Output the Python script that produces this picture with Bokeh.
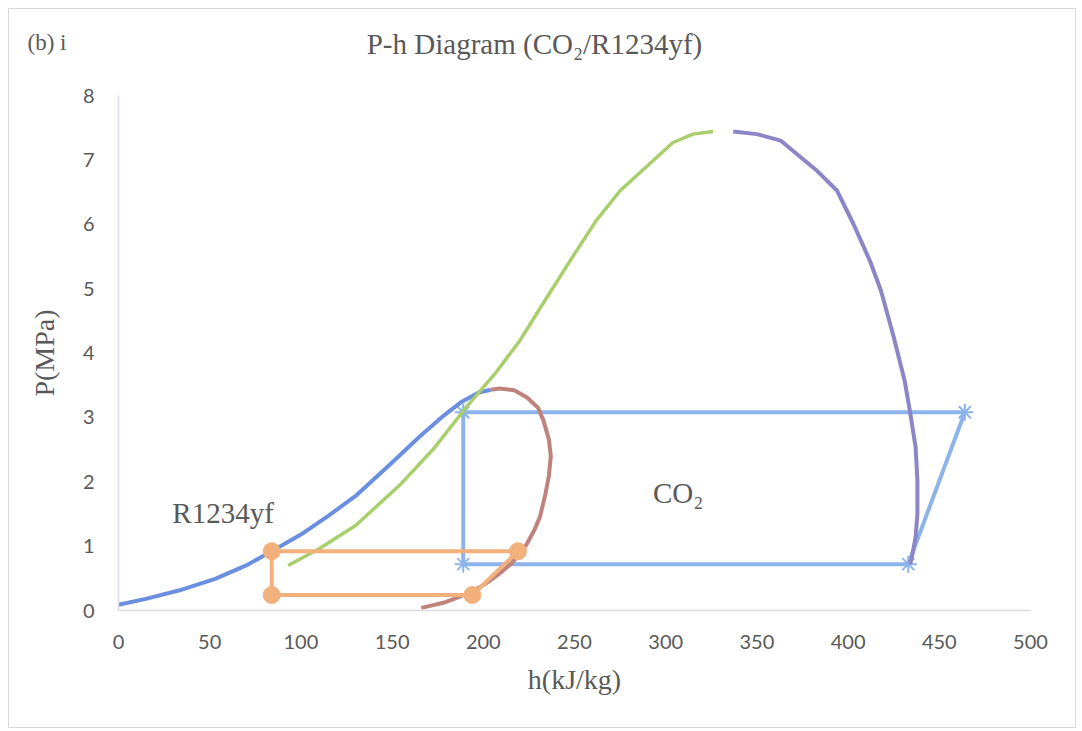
from bokeh.plotting import figure
from bokeh.layouts import column
from bokeh.models import Range1d, FixedTicker, Label
from bokeh.embed import file_html
from bokeh.resources import INLINE

# ---- data (h in kJ/kg, P in MPa) ----
# R1234yf saturation dome
r1234yf_liq_h = [0, 15, 33, 53, 70, 84, 100, 115, 130, 150, 165, 178, 188, 197, 204]
r1234yf_liq_p = [0.09, 0.18, 0.31, 0.49, 0.70, 0.92, 1.18, 1.47, 1.78, 2.30, 2.70, 3.02, 3.24, 3.38, 3.43]
r1234yf_vap_h = [204, 209, 217, 224, 230, 233, 236, 237, 236, 234, 231, 228, 224, 220, 215, 210, 204, 198, 191, 184, 178, 172, 166]
r1234yf_vap_p = [3.43, 3.45, 3.42, 3.31, 3.15, 2.95, 2.65, 2.40, 2.10, 1.80, 1.45, 1.25, 1.04, 0.88, 0.72, 0.60, 0.47, 0.36, 0.26, 0.18, 0.12, 0.08, 0.04]

# CO2 saturation dome
co2_liq_h = [93, 110, 130, 155, 173, 191, 207, 220, 235, 250, 262, 275, 290, 304, 315, 326]
co2_liq_p = [0.70, 0.96, 1.32, 1.97, 2.52, 3.17, 3.70, 4.19, 4.87, 5.54, 6.06, 6.52, 6.91, 7.27, 7.40, 7.44]
co2_vap_h = [337, 350, 363, 374, 383, 394, 403, 412, 418, 425, 431, 434, 437, 438, 438, 437, 435, 434]
co2_vap_p = [7.44, 7.40, 7.30, 7.04, 6.83, 6.52, 6.00, 5.43, 4.97, 4.25, 3.57, 3.08, 2.54, 2.02, 1.50, 1.14, 0.83, 0.72]

# cycle state points
co2_cycle_h = [189, 189, 433, 464, 189]
co2_cycle_p = [3.08, 0.72, 0.72, 3.08, 3.08]
r1234yf_cycle_h = [84, 84, 194, 219, 84]
r1234yf_cycle_p = [0.92, 0.24, 0.24, 0.92, 0.92]

x_ticks = [0, 50, 100, 150, 200, 250, 300, 350, 400, 450, 500]
y_ticks = [0, 1, 2, 3, 4, 5, 6, 7, 8]

SERIF = "Liberation Serif"
SANS = "Lato"
TEXT_GREY = "#595959"
WIDTH = 1066
HEADER_H = 70
TOTAL_H = 718

# ---- header strip with the caption and the title (pixel coordinates) ----
head = figure(
    width=WIDTH, height=HEADER_H,
    x_range=Range1d(0, WIDTH), y_range=Range1d(0, HEADER_H),
    x_axis_type=None, y_axis_type=None,
    output_backend="svg", toolbar_location=None,
    min_border=0, min_border_left=0, min_border_right=0,
    min_border_top=0, min_border_bottom=0,
    outline_line_color=None, frame_align=False,
    background_fill_color="white", border_fill_color="white",
)
head.grid.visible = False
head.add_layout(Label(x=525, y=36, text="P-h Diagram (CO\u2082/R1234yf)", text_font=SERIF,
                      text_font_size="29px", text_color=TEXT_GREY, text_align="center",
                      text_baseline="alphabetic"))
head.add_layout(Label(x=18, y=37, text="(b) i", text_font=SERIF, text_font_size="23px",
                      text_color=TEXT_GREY, text_align="left", text_baseline="alphabetic"))

# ---- main P-h chart ----
p = figure(
    width=WIDTH, height=TOTAL_H - HEADER_H,
    x_range=Range1d(0, 500), y_range=Range1d(0, 8),
    output_backend="svg", toolbar_location=None,
    min_border_left=109, min_border_right=45,
    min_border_top=86 - HEADER_H, min_border_bottom=117,
    background_fill_color="white", border_fill_color="white",
    outline_line_color=None, frame_align=False,
)
p.grid.visible = False

for ax in (p.xaxis[0], p.yaxis[0]):
    ax.axis_line_color = "#d9dbe6"
    ax.axis_line_width = 1.5
    ax.major_tick_line_color = None
    ax.minor_tick_line_color = None
    ax.major_label_text_font = SANS
    ax.major_label_text_font_size = "20px"
    ax.major_label_text_color = TEXT_GREY
    ax.axis_label_text_font = SERIF
    ax.axis_label_text_font_size = "28px"
    ax.axis_label_text_font_style = "normal"
    ax.axis_label_text_color = TEXT_GREY

p.xaxis.ticker = FixedTicker(ticks=x_ticks)
p.yaxis.ticker = FixedTicker(ticks=y_ticks)
p.xaxis.axis_label = "h(kJ/kg)"
p.yaxis.axis_label = "P(MPa)"
p.xaxis.major_label_standoff = 18
p.yaxis.major_label_standoff = 18
p.xaxis.axis_label_standoff = 12
p.yaxis.axis_label_standoff = 20

# CO2 cycle
p.line(co2_cycle_h, co2_cycle_p, line_color="#8db4ea", line_width=4, line_join="round")
p.scatter(co2_cycle_h[:4], co2_cycle_p[:4], marker="asterisk", size=17,
          line_color="#8db4ea", line_width=2)

# saturation curves
p.line(r1234yf_liq_h, r1234yf_liq_p, line_color="#6b8fe0", line_width=4, line_join="round")
p.line(r1234yf_vap_h, r1234yf_vap_p, line_color="#c0827c", line_width=4, line_join="round")
p.line(co2_liq_h, co2_liq_p, line_color="#a8cf6c", line_width=3.5, line_join="round")
p.line(co2_vap_h, co2_vap_p, line_color="#8c86c6", line_width=4, line_join="round")

# R1234yf cycle
p.line(r1234yf_cycle_h, r1234yf_cycle_p, line_color="#f2b07c", line_width=4, line_join="round")
p.scatter(r1234yf_cycle_h[:4], r1234yf_cycle_p[:4], marker="circle", size=17,
          fill_color="#f2b07c", line_color="#f2b07c")

# curve labels
p.add_layout(Label(x=29.5, y=1.52, text="R1234yf", text_font=SERIF, text_font_size="29px",
                   text_color=TEXT_GREY, text_align="left", text_baseline="alphabetic"))
p.add_layout(Label(x=293, y=1.83, text="CO\u2082", text_font=SERIF, text_font_size="29px",
                   text_color=TEXT_GREY, text_align="left", text_baseline="alphabetic"))

page = column(head, p, spacing=0, margin=(8, 0, 0, 8),
              styles={"border": "1px solid #d9d9d9"})

open("out.html", "w").write(file_html(page, INLINE))
